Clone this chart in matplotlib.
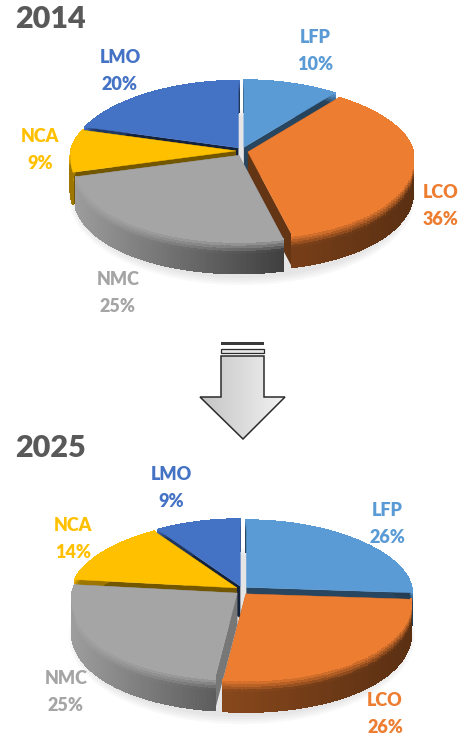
import numpy as np
import matplotlib
matplotlib.use("Agg")
import matplotlib.pyplot as plt
from matplotlib.collections import PolyCollection
from matplotlib.colors import to_rgb, LinearSegmentedColormap
from matplotlib.patches import Polygon, Ellipse

plt.rcParams['font.family'] = ['Lato', 'DejaVu Sans']

chemistries = ["LFP", "LCO", "NMC", "NCA", "LMO"]
share_2014 = [10, 36, 25, 9, 20]
share_2025 = [26, 26, 25, 14, 9]

colors = ["#5B9BD5", "#ED7D31", "#A5A5A5", "#FFC000", "#4472C4"]
wall_shade = [0.45, 0.42, 0.72, 0.45, 0.3]
# rim brightness at the left and right end of the pie
rim_shade = [(0.5, 0.4), (0.72, 0.38), (0.95, 0.06), (0.62, 0.5), (0.5, 0.4)]

# label anchors in pixels
label_xy_2014 = [(315, 51), (441, 206), (118, 293), (40, 150), (120, 71)]
label_xy_2025 = [(387, 524), (385, 714), (66, 692), (73, 539), (171, 488)]

rx, ry_up, ry_down = 165, 67, 86
depth = 32
explode = 6
perspective = 0.08


def arc_points(cx, cy, a0, a1, n=80):
    t = np.radians(np.linspace(a0, a1, n))
    ry = np.where(np.cos(t) > 0, ry_up, ry_down)
    # the far side of the pie looks a bit narrower
    return cx + rx * np.sin(t) * (1 - perspective * np.cos(t)), cy - ry * np.cos(t)


def draw_pie(ax, cx, cy, values):
    edges = np.cumsum([0] + values) / sum(values) * 360
    slices = []
    for i in range(len(values)):
        mid = np.radians((edges[i] + edges[i + 1]) / 2)
        ry = ry_up if np.cos(mid) > 0 else ry_down
        sx = cx + explode * np.sin(mid)
        sy = cy - explode * np.cos(mid) * ry / rx * 1.6
        slices.append((sy + 0.25 * ry * -np.cos(mid) * 2, i, sx, sy))

    # soft shadow on the page
    for grow in [16, 12, 8, 4]:
        ax.add_patch(Ellipse((cx, cy + depth + 14), 2 * rx + grow, ry_up + ry_down + 2 * 2 + grow * 1.2,
                             fc="#808080", ec="none", alpha=0.05, zorder=1))

    z = 2
    # back slices first
    for _, i, sx, sy in sorted(slices):
        base = np.array(to_rgb(colors[i]))
        xs, ys = arc_points(sx, sy, edges[i], edges[i + 1])

        for ex, ey in [(xs[0], ys[0]), (xs[-1], ys[-1])]:
            wall = [(sx, sy), (ex, ey), (ex, ey + depth), (sx, sy + depth)]
            ax.add_patch(Polygon(wall, fc=base * wall_shade[i], ec="none", zorder=z))
        z += 1

        quads = []
        quad_colors = []
        steps = np.linspace(0, 1, 13)
        for k in range(len(xs) - 1):
            t = ((xs[k] - sx) / rx + 1) / 2
            side = base * (rim_shade[i][0] + (rim_shade[i][1] - rim_shade[i][0]) * t)
            for f0, f1 in zip(steps[:-1], steps[1:]):
                quads.append([(xs[k], ys[k] + f0 * depth), (xs[k + 1], ys[k + 1] + f0 * depth),
                              (xs[k + 1], ys[k + 1] + f1 * depth), (xs[k], ys[k] + f1 * depth)])
                # rounded top edge fades from the face colour into the side colour
                blend = max(0.0, 1 - f0 / 0.35)
                quad_colors.append(side + (base - side) * blend)
        ax.add_collection(PolyCollection(quads, facecolors=quad_colors, edgecolors=quad_colors,
                                         linewidths=0.8, antialiaseds=False, zorder=z))
        z += 1

        top = [(sx, sy)] + list(zip(xs, ys))
        ax.add_patch(Polygon(top, fc=base, ec=base, lw=0.3, zorder=z))
        z += 1
    return z


fig = plt.figure(figsize=(4.69, 7.38), dpi=100)
ax = fig.add_axes([0, 0, 1, 1])

# arrow between the two pies
arrow_cmap = LinearSegmentedColormap.from_list("arrow", ["#c4c4c4", "#f2f2f2"])
arrow_shape = [(221, 356), (264, 356), (264, 397), (285, 397), (243, 439), (200, 397), (221, 397)]
grad = np.linspace(0, 1, 64).reshape(1, -1)
img = ax.imshow(grad, extent=(200, 285, 439, 342), cmap=arrow_cmap, aspect="auto", zorder=1)
outline = Polygon(arrow_shape, fc="none", ec="#2b2b2b", lw=1.1, zorder=2)
ax.add_patch(outline)
img.set_clip_path(outline)
ax.add_patch(Polygon([(221, 342), (264, 342), (264, 345), (221, 345)], fc="#3a3a3a", ec="none"))
ax.add_patch(Polygon([(221, 349), (264, 349), (264, 353), (221, 353)], fc="#e6e6e6", ec="#2b2b2b", lw=0.9))

z1 = draw_pie(ax, 242, 151, share_2014)
z2 = draw_pie(ax, 242, 590, share_2025)

for values, label_xy, z in [(share_2014, label_xy_2014, z1), (share_2025, label_xy_2025, z2)]:
    for name, v, c, (lx, ly) in zip(chemistries, values, colors, label_xy):
        ax.text(lx, ly, f"{name}\n{v}%", color=c, fontsize=13, fontweight="heavy",
                ha="center", va="center", linespacing=1.72, zorder=z + 1)

ax.text(15, 19, "2014", color="#595959", fontsize=22, fontweight="heavy", ha="left", va="center")
ax.text(15, 448, "2025", color="#595959", fontsize=22, fontweight="heavy", ha="left", va="center")

ax.set_xlim(0, 469)
ax.set_ylim(738, 0)
ax.axis("off")

fig.savefig("out.png", dpi=100, facecolor="white")
